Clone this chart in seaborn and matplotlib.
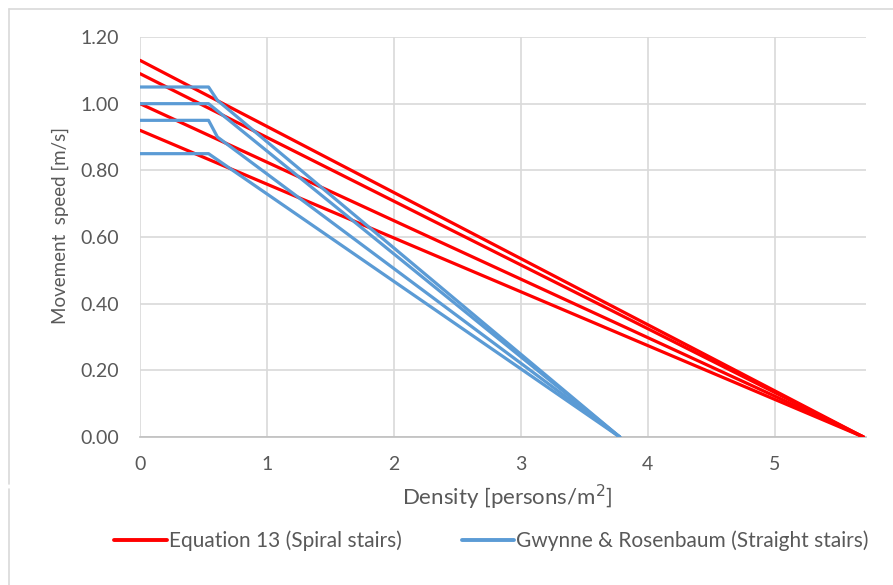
import matplotlib
matplotlib.use("Agg")
import matplotlib.pyplot as plt
from matplotlib.lines import Line2D
import seaborn as sns
import pandas as pd

# ---- data ----
red_x = [[0, 5.70], [0, 5.70], [0, 5.70], [0, 5.70]]
red_y = [[1.13, 0.0], [1.09, 0.0], [1.00, 0.0], [0.92, 0.0]]

blue_x = [[0, 0.54, 0.61, 3.78], [0, 0.54, 3.78], [0, 0.54, 0.61, 3.78], [0, 0.54, 3.78]]
blue_y = [[1.05, 1.05, 1.01, 0.0], [1.00, 1.00, 0.0], [0.95, 0.95, 0.90, 0.0], [0.85, 0.85, 0.0]]

red_label = "Equation 13 (Spiral stairs)"
blue_label = "Gwynne & Rosenbaum (Straight stairs)"
x_ticks = [0, 1, 2, 3, 4, 5]
y_ticks = [0.0, 0.2, 0.4, 0.6, 0.8, 1.0, 1.2]

rows = []
for i, (xs, ys) in enumerate(zip(red_x, red_y)):
    for x, y in zip(xs, ys):
        rows.append({"density": x, "speed": y, "series": red_label, "unit": f"r{i}"})
for i, (xs, ys) in enumerate(zip(blue_x, blue_y)):
    for x, y in zip(xs, ys):
        rows.append({"density": x, "speed": y, "series": blue_label, "unit": f"b{i}"})
df = pd.DataFrame(rows)

sns.set_style("white")
plt.rcParams["font.family"] = ["Lato", "DejaVu Sans"]

RED = "#FF0000"
BLUE = "#5B9BD5"
TXT = "#595959"
GRID = "#D9D9D9"

fig = plt.figure(figsize=(8.93, 5.85), dpi=100)
ax = fig.add_axes([140 / 893, (585 - 437) / 585, (866 - 140) / 893, (437 - 37) / 585])

sns.lineplot(data=df, x="density", y="speed", hue="series", units="unit",
             estimator=None, sort=False, palette={red_label: RED, blue_label: BLUE},
             linewidth=2.3, legend=False, ax=ax, zorder=3)

ax.set_xlim(0, 5.72)
ax.set_ylim(0, 1.2)
ax.set_xticks(x_ticks)
ax.set_yticks(y_ticks)
ax.set_yticklabels([f"{v:.2f}" for v in y_ticks])
ax.grid(True, color=GRID, linewidth=1.2)
ax.set_axisbelow(True)
for s in ["top", "right", "left"]:
    ax.spines[s].set_visible(False)
ax.spines["bottom"].set_color("#BFBFBF")
ax.spines["bottom"].set_linewidth(1.2)
ax.tick_params(axis="both", length=0, labelsize=14, colors=TXT)
ax.tick_params(axis="x", pad=14)
ax.tick_params(axis="y", pad=15)

ax.set_xlabel("Density [persons/m$^2$]", fontsize=16, color=TXT)
ax.xaxis.set_label_coords(0.5055, (437 - 497) / 400)
ax.xaxis.label.set_va("center")
ax.set_ylabel("Movement  speed [m/s]", fontsize=13.5, color=TXT)
ax.yaxis.set_label_coords((60 - 140) / 726, (437 - 225) / 400)
ax.yaxis.label.set_va("center")

handles = [Line2D([0], [0], color=RED, lw=2.8), Line2D([0], [0], color=BLUE, lw=2.8)]
fig.legend(handles, [red_label, blue_label], loc="center",
           bbox_to_anchor=(491.5 / 893, 1 - 541 / 585),
           ncol=2, frameon=False, fontsize=15, labelcolor=TXT, handlelength=2.5,
           handletextpad=0.1, columnspacing=2.9, borderpad=0, borderaxespad=0)

# outer chart border
fig.add_artist(Line2D([9 / 893, 1], [1 - 9 / 585, 1 - 9 / 585], color="#D9D9D9", lw=1.2,
                      transform=fig.transFigure))
fig.add_artist(Line2D([9 / 893, 9 / 893], [1 - 9 / 585, 1 - 484 / 585], color="#D9D9D9", lw=1.2,
                      transform=fig.transFigure))
fig.add_artist(Line2D([9 / 893, 9 / 893], [1 - 489 / 585, 0], color="#D9D9D9", lw=1.2,
                      transform=fig.transFigure))

fig.savefig("out.png", dpi=100, facecolor="white")
